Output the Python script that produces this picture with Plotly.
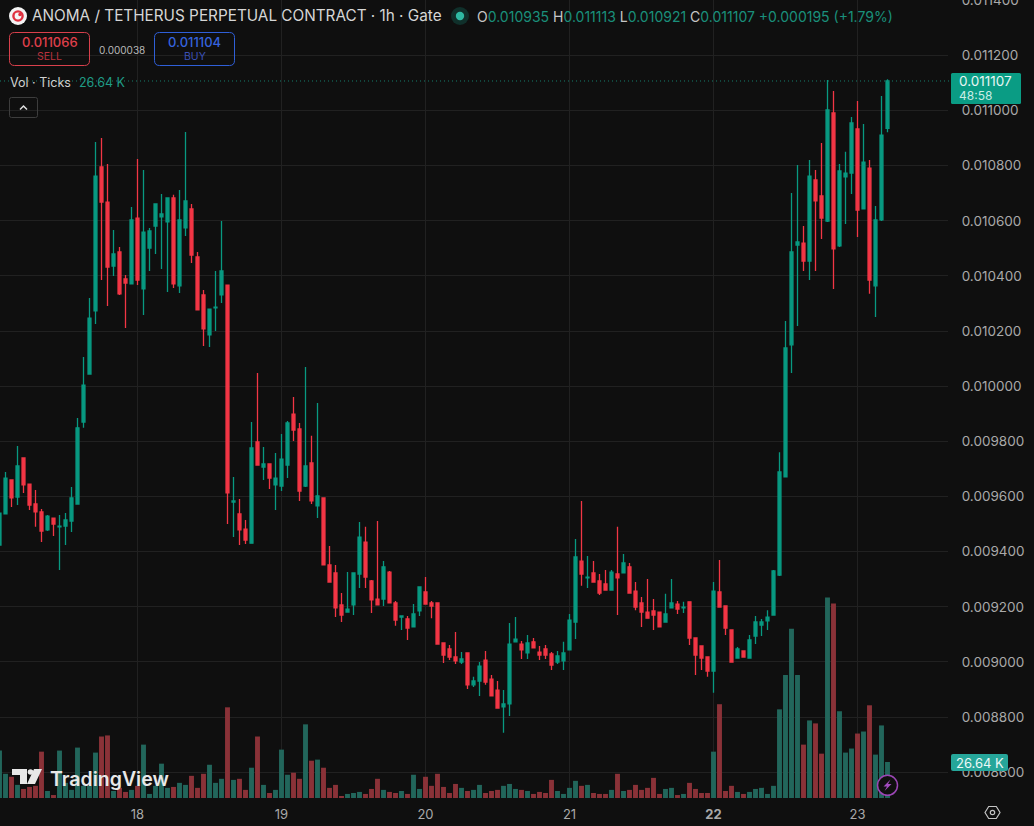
import numpy as np
import plotly.graph_objects as go

# Hourly candles for ANOMA/USDT perpetual; prices are in millionths of a USDT.
hours = list(range(-23, 126))  # hours counted from the start of day 18

open_u = [9424, 9537, 9660, 9598, 9740, 9645, 9573, 9544, 9479, 9522, 9490, 9493, 9511, 9573, 9870, 10044, 10273, 10795, 10668, 10436, 10487, 10389, 10371,
          10610, 10353, 10501, 10581, 10614, 10596, 10683, 10364, 10574, 10643, 10469, 10331, 10186, 10284, 10331, 10367, 9580, 9537, 9482, 9431, 9798, 9707, 9718, 9642,
          9638, 9714, 9899, 9845, 9638, 9722, 9566, 9595, 9352, 9323, 9207, 9181, 9207, 9319, 9435, 9294, 9228, 9228, 9326, 9214, 9163, 9156, 9127,
          9185, 9254, 9214, 9214, 9069, 9047, 9018, 9000, 9033, 8917, 8931, 9007, 8938, 8898, 8837, 8848, 9073, 9065, 9033, 9073, 9036, 9047, 9029, 9000, 9004,
          9044, 9145, 9366, 9305, 9323, 9294, 9283, 9261, 9319, 9323, 9345, 9257, 9214, 9181, 9185, 9181, 9145, 9196, 9210, 9196,
          9218, 9087, 9058, 9018, 8967, 9254, 9203, 9116, 9014, 9040, 9014, 9094, 9134, 9149, 9170, 9315, 9671, 10150, 10512, 10519, 10454, 10748, 10690,
          10599, 10991, 10509, 10759, 10773, 10933, 10643, 10791, 10364, 10603, 10935]
high_u = [9540, 9689, 9660, 9783, 9740, 9645, 9624, 9555, 9533, 9522, 9533, 9540, 9635, 9885, 10106, 10320, 10886, 10900, 10806, 10567, 10505, 10403, 10650,
          10824, 10784, 10574, 10661, 10697, 10683, 10694, 10712, 10922, 10661, 10487, 10349, 10280, 10418, 10599, 10367, 9671, 9591, 9515, 9870, 10048, 9780, 9718, 9758,
          9827, 9874, 9961, 9867, 10070, 9820, 9939, 9595, 9421, 9352, 9250, 9326, 9323, 9508, 9490, 9297, 9511, 9366, 9330, 9221, 9167, 9167, 9210,
          9272, 9308, 9221, 9214, 9069, 9062, 9109, 9036, 9033, 8946, 9000, 9040, 8953, 8931, 8898, 9141, 9163, 9076, 9098, 9087, 9058, 9062, 9036, 9040, 9073,
          9174, 9446, 9584, 9384, 9366, 9319, 9334, 9334, 9490, 9392, 9359, 9290, 9236, 9301, 9228, 9181, 9247, 9301, 9221, 9218,
          9218, 9087, 9058, 9018, 9290, 9370, 9203, 9116, 9054, 9040, 9098, 9167, 9156, 9188, 9334, 9761, 10237, 10701, 10802, 10581, 10820, 10784, 10882,
          11111, 11071, 10806, 10850, 10976, 11034, 10951, 10820, 10654, 11053, 11113]
low_u = [9424, 9537, 9562, 9569, 9613, 9551, 9490, 9435, 9475, 9457, 9334, 9424, 9471, 9573, 9849, 10044, 10226, 10385, 10291, 10400, 10331, 10211, 10371,
         10367, 10258, 10418, 10480, 10425, 10342, 10356, 10338, 10545, 10447, 10277, 10146, 10142, 10200, 10302, 9500, 9453, 9424, 9428, 9431, 9714, 9660, 9627, 9551,
         9620, 9667, 9801, 9584, 9635, 9573, 9522, 9352, 9290, 9163, 9145, 9181, 9170, 9268, 9268, 9178, 9207, 9203, 9214, 9131, 9116, 9080, 9127,
         9167, 9210, 9159, 9065, 8996, 9007, 8993, 8993, 8902, 8909, 8877, 8917, 8877, 8833, 8743, 8804, 9073, 9011, 9011, 9051, 9007, 9011, 8971, 8993, 8971,
         9044, 9083, 9276, 9268, 9290, 9243, 9261, 9261, 9170, 9323, 9250, 9188, 9127, 9159, 9116, 9127, 9145, 9196, 9174, 9178,
         9062, 8953, 8971, 8946, 8888, 9199, 9098, 9000, 9014, 9018, 9014, 9065, 9094, 9116, 9170, 9312, 9671, 10048, 10218, 10418, 10385, 10418, 10534,
         10596, 10353, 10505, 10588, 10697, 10541, 10643, 10335, 10251, 10599, 10921]
close_u = [9540, 9667, 9595, 9711, 9642, 9569, 9544, 9475, 9529, 9500, 9493, 9515, 9595, 9849, 10004, 10247, 10762, 10668, 10432, 10480, 10335, 10374, 10603,
           10385, 10559, 10563, 10661, 10625, 10683, 10371, 10603, 10672, 10476, 10277, 10208, 10280, 10287, 10418, 9613, 9584, 9479, 9442, 9776, 9714, 9718, 9667, 9667,
           9736, 9867, 9841, 9620, 9711, 9584, 9602, 9352, 9290, 9196, 9170, 9192, 9323, 9453, 9308, 9225, 9207, 9345, 9214, 9152, 9167, 9123, 9174,
           9272, 9210, 9203, 9065, 9025, 9018, 9004, 9011, 8917, 8931, 8985, 8927, 8877, 8833, 8848, 9065, 9083, 9044, 9069, 9051, 9025, 9025, 8989, 9022, 9033,
           9152, 9381, 9319, 9308, 9290, 9250, 9261, 9326, 9305, 9359, 9250, 9199, 9181, 9159, 9170, 9127, 9174, 9214, 9192, 9199,
           9087, 9025, 9014, 8967, 9257, 9199, 9123, 9000, 9047, 9018, 9080, 9145, 9145, 9163, 9330, 9689, 10139, 10487, 10523, 10454, 10762, 10672, 10610,
           11002, 10498, 10781, 10773, 10955, 10639, 10813, 10385, 10603, 10911, 11107]

# Traded ticks per hour, in thousands.
volume_k = [35.1, 17.9, 15.7, 9.7, 6.7, 8.2, 9.0, 34.3, 5.2, 2.2, 35.1, 11.2, 6.0, 37.3, 9.0, 9.0, 33.6, 45.5, 46.3, 5.2, 7.5, 4.5, 6.0,
            9.0, 39.5, 3.0, 9.0, 25.4, 7.5, 8.2, 11.2, 9.7, 16.4, 7.5, 17.9, 24.6, 11.2, 14.2, 67.1, 13.4, 14.2, 6.0, 22.4, 45.5, 9.7, 3.7, 6.0,
            35.8, 17.2, 18.7, 14.2, 54.5, 27.6, 28.4, 22.4, 7.5, 9.7, 1.5, 3.0, 3.7, 4.5, 3.0, 6.7, 14.2, 6.0, 4.5, 3.7, 5.2, 3.0, 17.2,
            6.7, 15.7, 9.0, 17.9, 8.2, 3.7, 10.4, 7.5, 5.2, 6.0, 9.7, 3.7, 5.2, 6.0, 9.0, 10.4, 6.7, 6.0, 5.2, 3.0, 4.5, 3.7, 13.4, 5.2, 3.0,
            7.5, 12.7, 9.0, 9.7, 3.7, 3.0, 3.0, 6.0, 17.9, 5.2, 6.0, 9.7, 6.0, 7.5, 14.9, 3.0, 6.7, 7.5, 2.2, 3.0,
            11.2, 6.7, 3.7, 3.7, 34.3, 69.4, 5.2, 9.0, 4.5, 3.0, 4.5, 6.7, 7.5, 3.0, 9.0, 65.6, 91.0, 125.3, 91.0, 39.5, 57.4, 55.2, 32.8,
            148.4, 144.0, 64.2, 33.6, 36.6, 47.7, 49.2, 68.6, 32.1, 53.7, 26.64]

day_ticks = [0, 24, 48, 72, 96, 120]
day_labels = ["18", "19", "20", "21", "<b>22</b>", "23"]
price_ticks = [0.0086, 0.0088, 0.0090, 0.0092, 0.0094, 0.0096, 0.0098, 0.0100, 0.0102, 0.0104, 0.0106, 0.0108, 0.0110, 0.0112, 0.0114]

W, H = 1034, 826
BG = "#0f0f0f"
GRID = "#212121"
UP = "#089981"
DOWN = "#f23645"
UP_VOL = "#22665b"
DOWN_VOL = "#8a3238"
AXIS_TEXT = "#a9a9a9"
FONT = "Inter"
PANE_RIGHT = 948
PANE_BOTTOM = 798

def fx(px):
    return px / W

def fy(py):
    return 1 - py / H

def round_rect(x0, y0, x1, y1, r, **style):
    # Rounded rectangle in window pixels, expressed as a paper-space path.
    pts = (f"M {fx(x0 + r)} {fy(y0)} L {fx(x1 - r)} {fy(y0)} Q {fx(x1)} {fy(y0)} {fx(x1)} {fy(y0 + r)} "
           f"L {fx(x1)} {fy(y1 - r)} Q {fx(x1)} {fy(y1)} {fx(x1 - r)} {fy(y1)} "
           f"L {fx(x0 + r)} {fy(y1)} Q {fx(x0)} {fy(y1)} {fx(x0)} {fy(y1 - r)} "
           f"L {fx(x0)} {fy(y0 + r)} Q {fx(x0)} {fy(y0)} {fx(x0 + r)} {fy(y0)} Z")
    return dict(type="path", xref="paper", yref="paper", path=pts, **style)

def poly(points, **style):
    d = "M " + " L ".join(f"{fx(a)} {fy(b)}" for a, b in points) + " Z"
    return dict(type="path", xref="paper", yref="paper", path=d, **style)

def circle(cx, cy, r, **style):
    return dict(type="circle", xref="paper", yref="paper",
                x0=fx(cx - r), x1=fx(cx + r), y0=fy(cy + r), y1=fy(cy - r), **style)

def label(x, y, text, size, color, anchor="left", weight=None):
    return dict(xref="paper", yref="paper", x=fx(x), y=fy(y), text=text, showarrow=False,
                xanchor=anchor, yanchor="middle", align=anchor, borderpad=0, borderwidth=0,
                font=dict(family=FONT, size=size, color=color, weight=weight))

opens = np.array(open_u) * 1e-6
highs = np.array(high_u) * 1e-6
lows = np.array(low_u) * 1e-6
closes = np.array(close_u) * 1e-6
vol_colors = [UP_VOL if c >= o else DOWN_VOL for o, c in zip(open_u, close_u)]
last_close = closes[-1]

fig = go.Figure()
fig.add_trace(go.Bar(x=hours, y=volume_k, marker=dict(color=vol_colors, line=dict(width=0)),
                     width=0.82, yaxis="y", hoverinfo="skip", showlegend=False))
fig.add_trace(go.Candlestick(x=hours, open=opens, high=highs, low=lows, close=closes, yaxis="y2",
                             increasing=dict(line=dict(color=UP, width=1.3), fillcolor=UP),
                             decreasing=dict(line=dict(color=DOWN, width=1.3), fillcolor=DOWN),
                             whiskerwidth=0, showlegend=False))

shapes = [
    # last-price marker line and its tag
    dict(type="line", xref="paper", yref="y2", x0=0, x1=fx(951), y0=last_close, y1=last_close,
         line=dict(color="#167f6d", width=1, dash="1px,3px")),
    round_rect(951, 73, 1021, 104, 1.5, fillcolor="#0a9c84", line=dict(width=0)),
    round_rect(951, 754, 1008, 771, 2, fillcolor="#26a69a", line=dict(width=0)),
    # symbol logo and market-status dot
    circle(18, 16, 9, fillcolor="#f4f4f4", line=dict(width=0)),
    circle(18, 16, 4.6, fillcolor="#f4f4f4", line=dict(color="#e0303f", width=2.4)),
    circle(20, 14.5, 1.8, fillcolor="#e0303f", line=dict(width=0)),
    circle(460, 16, 9, fillcolor="#10302b", line=dict(width=0)),
    circle(460, 16, 4.2, fillcolor="#2fb8a2", line=dict(width=0)),
    # order buttons and legend toggle
    round_rect(9.5, 32.5, 89.5, 65.5, 5, fillcolor="rgba(0,0,0,0)", line=dict(color="#d9404c", width=1)),
    round_rect(154.5, 32.5, 234.5, 65.5, 5, fillcolor="rgba(0,0,0,0)", line=dict(color="#2f5fd8", width=1)),
    round_rect(9.5, 97.5, 37.5, 117.5, 2, fillcolor="rgba(0,0,0,0)", line=dict(color="#3d3d3d", width=1)),
    dict(type="path", xref="paper", yref="paper",
         path=f"M {fx(20)} {fy(109.5)} L {fx(23.5)} {fy(106)} L {fx(27)} {fy(109.5)}",
         line=dict(color="#dddddd", width=1.5)),
    # TradingView mark
    poly([(12, 769), (27, 769), (27, 784), (20, 784), (20, 775), (12, 775)], fillcolor="#e8e8e8", line=dict(width=0)),
    circle(30.5, 772, 2.8, fillcolor="#e8e8e8", line=dict(width=0)),
    poly([(34, 769), (42, 769), (35, 784), (27, 784)], fillcolor="#e8e8e8", line=dict(width=0)),
    # signal badge
    circle(887.5, 785.3, 10, fillcolor=BG, line=dict(color="#9b46b5", width=1.5)),
    poly([(890.5, 779.5), (883.5, 786.5), (887, 786.5), (884.5, 791), (891.5, 784), (888, 784)],
         fillcolor="#a34cc0", line=dict(width=0)),
    # chart settings icon
    poly([(985, 812.5), (988.7, 806.5), (996.3, 806.5), (1000, 812.5), (996.3, 818.5), (988.7, 818.5)],
         fillcolor="rgba(0,0,0,0)", line=dict(color="#c4c4c4", width=1.2)),
    circle(992.5, 812.5, 2.2, fillcolor="rgba(0,0,0,0)", line=dict(color="#c4c4c4", width=1.2)),
]

grey = "#c6c6c6"
teal = "#1a8f7b"
ohlc = (f'<span style="color:{grey}">O</span>0.010935 '
        f'<span style="color:{grey}">H</span>0.011113 '
        f'<span style="color:{grey}">L</span>0.010921 '
        f'<span style="color:{grey}">C</span>0.011107 +0.000195 (+1.79%)')

annotations = [
    label(32, 16, "ANOMA / TETHERUS PERPETUAL CONTRACT · 1h · Gate", 15.3, "#d6d6d6"),
    label(477, 16.5, ohlc, 14, teal),
    label(49.5, 41.5, "0.011066", 13, "#e0404c", "center", 500),
    label(49.5, 56.5, "SELL", 10.5, "#b8323d", "center"),
    label(122, 49.5, "0.000038", 10, "#b9b9b9", "center"),
    label(194.5, 41.5, "0.011104", 13, "#3563de", "center", 500),
    label(194.5, 56.5, "BUY", 10.5, "#3a50b5", "center"),
    label(10, 82.5, "Vol · Ticks", 12.5, "#d0d0d0"),
    label(79, 82.5, "26.64 K", 12.5, "#1f9c86"),
    label(959, 81, "0.011107", 13.5, "#e8f6f3"),
    label(959, 95.5, "48:58", 12, "#c9ece5"),
    label(979.5, 762.5, "26.64 K", 13, "#ecf8f6", "center"),
    label(50, 778.5, "TradingView", 19.5, "#e8e8e8", weight=600),
]

fig.update_layout(
    width=W, height=H,
    margin=dict(l=0, r=0, t=0, b=0),
    paper_bgcolor=BG, plot_bgcolor=BG,
    showlegend=False, dragmode=False, hovermode=False,
    # each hour spans six pixels and wicks sit on whole pixels
    xaxis=dict(domain=[0, fx(PANE_RIGHT)], range=[-22.917, 135.083], rangeslider=dict(visible=False),
               tickmode="array", tickvals=day_ticks, ticktext=day_labels,
               showgrid=True, gridcolor=GRID, gridwidth=1, zeroline=False, showline=False,
               ticks="outside", ticklen=4, tickcolor="rgba(0,0,0,0)",
               tickfont=dict(family=FONT, size=13, color=AXIS_TEXT), automargin=False),
    yaxis=dict(domain=[1 - PANE_BOTTOM / H, 1], range=[0, 590.5], visible=False, fixedrange=True),
    yaxis2=dict(domain=[1 - PANE_BOTTOM / H, 1], overlaying="y", side="right", anchor="x",
                range=[0.0085067, 0.0114007], tickmode="array", tickvals=price_ticks,
                tickformat=".6f", showgrid=True, gridcolor=GRID, gridwidth=1, zeroline=False,
                showline=False, ticks="outside", ticklen=10, tickcolor="rgba(0,0,0,0)",
                ticklabeloverflow="allow",
                tickfont=dict(family=FONT, size=13.5, color=AXIS_TEXT), automargin=False, fixedrange=True),
    shapes=shapes,
    annotations=annotations,
)

fig.write_html("out.html", config=dict(displayModeBar=False, responsive=False))
